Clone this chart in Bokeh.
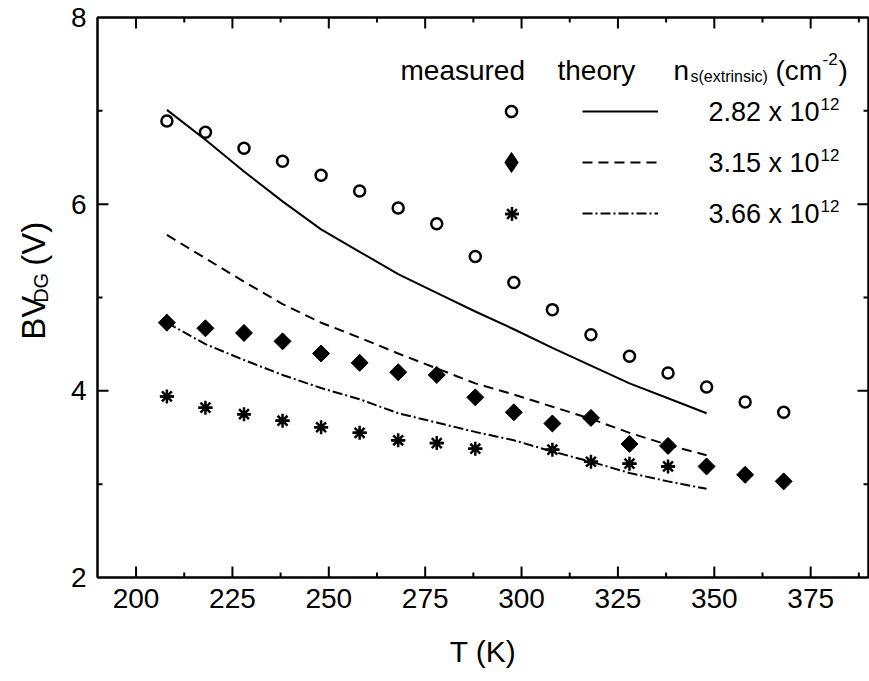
import math
from bokeh.plotting import figure
from bokeh.layouts import row
from bokeh.models import (Label, LinearAxis, SingleIntervalTicker, Legend, LegendItem,
                          CustomJSTickFormatter)
from bokeh.core.properties import value
from bokeh.embed import file_html
from bokeh.resources import INLINE

# ---------------- data ----------------
T_meas = [208, 218, 228, 238, 248, 258, 268, 278, 288, 298, 308, 318, 328, 338, 348, 358, 368]
bv_282_meas = [6.89, 6.77, 6.60, 6.46, 6.31, 6.14, 5.96, 5.79, 5.44, 5.16, 4.87, 4.60, 4.37,
               4.19, 4.04, 3.88, 3.77]
bv_315_meas = [4.73, 4.67, 4.62, 4.53, 4.40, 4.30, 4.20, 4.17, 3.93, 3.77, 3.65, 3.71, 3.43,
               3.41, 3.19, 3.10, 3.03]
T_meas_366 = [208, 218, 228, 238, 248, 258, 268, 278, 288, 308, 318, 328, 338]
bv_366_meas = [3.94, 3.82, 3.75, 3.68, 3.61, 3.55, 3.47, 3.44, 3.38, 3.37, 3.24, 3.22, 3.19]

T_theory = [208, 218, 228, 238, 248, 258, 268, 278, 288, 298, 308, 318, 328, 338, 348]
bv_282_theory = [7.01, 6.69, 6.35, 6.03, 5.73, 5.49, 5.25, 5.05, 4.85, 4.66, 4.46, 4.27, 4.08,
                 3.92, 3.76]
bv_315_theory = [5.67, 5.42, 5.17, 4.93, 4.73, 4.57, 4.40, 4.24, 4.08, 3.96, 3.83, 3.70, 3.55,
                 3.42, 3.31]
bv_366_theory = [4.73, 4.50, 4.33, 4.17, 4.03, 3.91, 3.76, 3.66, 3.56, 3.47, 3.35, 3.24, 3.12,
                 3.03, 2.95]

x_major = [200, 225, 250, 275, 300, 325, 350, 375]
x_minor = [212.5, 237.5, 262.5, 287.5, 312.5, 337.5, 362.5, 387.5]
y_major = [4, 6]
y_minor = [3, 5, 7]
X_MIN, X_MAX, Y_MIN, Y_MAX = 190, 390, 2, 8

header_cols = ["measured", "theory"]
row_labels = ["2.82 x 10", "3.15 x 10", "3.66 x 10"]
row_exp = "12"

FONT = "Liberation Sans"
TW = 60                      # width of the strip holding the y-axis title
FL_ABS, FR_ABS, FT, FB = 97, 868, 17, 577
FL = FL_ABS - TW

p = figure(width=869 - TW, height=681, x_range=(X_MIN, X_MAX), y_range=(Y_MIN, Y_MAX),
           output_backend="svg", toolbar_location=None,
           min_border_left=FL, min_border_right=1, min_border_top=FT, min_border_bottom=681 - FB,
           background_fill_color="white", border_fill_color="white")
p.outline_line_color = "black"
p.outline_line_width = 2
p.xgrid.visible = False
p.ygrid.visible = False

xt = SingleIntervalTicker(interval=25, num_minor_ticks=2)
yt = SingleIntervalTicker(interval=2, num_minor_ticks=2)


def style_axis(ax, labels=True):
    ax.axis_line_width = 2
    ax.axis_line_color = "black"
    ax.major_tick_line_width = 2
    ax.minor_tick_line_width = 2
    ax.major_tick_in = 0
    ax.major_tick_out = 0
    ax.minor_tick_in = 0
    ax.minor_tick_out = 0
    if labels:
        ax.major_label_text_font = FONT
        ax.major_label_text_font_size = "28px"
        ax.major_label_text_color = "black"
        ax.major_label_standoff = 11
    else:
        ax.formatter = CustomJSTickFormatter(code="return ''")
        ax.major_label_text_font_size = "0px"
        ax.major_label_standoff = 0


p.xaxis.ticker = xt
p.yaxis.ticker = yt
style_axis(p.xaxis[0])
style_axis(p.yaxis[0])
p.xaxis.axis_label = "T (K)"
p.xaxis.axis_label_text_font = FONT
p.xaxis.axis_label_text_font_size = "30px"
p.xaxis.axis_label_text_font_style = "normal"
p.xaxis.axis_label_text_color = "black"
p.xaxis.axis_label_standoff = 24

top_ax = LinearAxis(ticker=xt)
right_ax = LinearAxis(ticker=yt)
style_axis(top_ax, labels=False)
style_axis(right_ax, labels=False)
p.add_layout(top_ax, "above")
p.add_layout(right_ax, "right")

# inward ticks on all four sides, drawn as short segments from the tick values
px_x = (FR_ABS - FL_ABS) / (X_MAX - X_MIN)     # pixels per kelvin
px_y = (FB - FT) / (Y_MAX - Y_MIN)             # pixels per volt
MAJ, MIN_ = 11, 5                               # tick lengths in pixels
tk = dict(line_color="black", line_width=2)
for ys, sgn in ((Y_MIN, 1), (Y_MAX, -1)):
    p.segment(x0=x_major, y0=[ys] * len(x_major), x1=x_major,
              y1=[ys + sgn * MAJ / px_y] * len(x_major), **tk)
    p.segment(x0=x_minor, y0=[ys] * len(x_minor), x1=x_minor,
              y1=[ys + sgn * MIN_ / px_y] * len(x_minor), **tk)
for xs, sgn in ((X_MIN, 1), (X_MAX, -1)):
    p.segment(x0=[xs] * len(y_major), y0=y_major, x1=[xs + sgn * MAJ / px_x] * len(y_major),
              y1=y_major, **tk)
    p.segment(x0=[xs] * len(y_minor), y0=y_minor, x1=[xs + sgn * MIN_ / px_x] * len(y_minor),
              y1=y_minor, **tk)

# ---------------- theory lines ----------------
r_l1 = p.line(T_theory, bv_282_theory, line_color="black", line_width=2)
r_l2 = p.line(T_theory, bv_315_theory, line_color="black", line_width=2, line_dash="10 6")
r_l3 = p.line(T_theory, bv_366_theory, line_color="black", line_width=2, line_dash="10 3 2 3")

# ---------------- measured points ----------------
r_c = p.scatter(T_meas, bv_282_meas, marker="circle", size=11, fill_color="white",
                line_color="black", line_width=2.5)
# narrow diamond underneath (hidden by the rotated square) - used for the legend sample
r_d_leg = p.scatter(T_meas, bv_315_meas, marker="diamond", size=16, fill_color="black",
                    line_color="black", line_width=1)
r_d = p.scatter(T_meas, bv_315_meas, marker="square", angle=math.pi / 4, size=12,
                fill_color="black", line_color="black", line_width=1)
r_s1 = p.scatter(T_meas_366, bv_366_meas, marker="asterisk", size=14, line_color="black",
                 line_width=2.5)
r_s2 = p.scatter(T_meas_366, bv_366_meas, marker="dash", size=14, line_color="black",
                 line_width=2.5)

# ---------------- legend ----------------
ROW_Y = [111, 162, 213]      # canvas y of the legend rows
MARK_X = 511
LINE_X0, LINE_W = 582, 76


def marker_legend(renderers, box, cy):
    return Legend(items=[LegendItem(label=" ", renderers=renderers)],
                  location=(MARK_X - box / 2 - FL_ABS, FB - cy - box / 2),
                  glyph_width=box, glyph_height=box, padding=0, margin=0, spacing=0,
                  label_standoff=0, label_width=0, label_height=0, label_text_font_size="1px",
                  background_fill_alpha=0, border_line_alpha=0)


p.add_layout(marker_legend([r_c], 28, ROW_Y[0]), "center")
p.add_layout(marker_legend([r_d_leg], 50, ROW_Y[1]), "center")
p.add_layout(marker_legend([r_s1, r_s2], 35, ROW_Y[2]), "center")

leg_l = Legend(items=[LegendItem(label=" ", renderers=[r_l1]),
                      LegendItem(label=" ", renderers=[r_l2]),
                      LegendItem(label=" ", renderers=[r_l3])],
               location=(LINE_X0 - FL_ABS, FB - ROW_Y[2] - 15),
               orientation="vertical", glyph_width=LINE_W, glyph_height=30, spacing=21,
               padding=0, margin=0, background_fill_alpha=0, border_line_alpha=0,
               label_text_font_size="1px", label_standoff=0, label_height=0, label_width=0)
p.add_layout(leg_l, "center")


def lab(x, y, text, size):
    p.add_layout(Label(x=x - FL_ABS, y=FB - y, x_units="screen", y_units="screen", text=text,
                       text_font=FONT, text_font_size=f"{size}px", text_color="black",
                       text_align="left", text_baseline="alphabetic"))


# header
lab(400, 70, header_cols[0], 28)
lab(557, 70, header_cols[1], 28)
lab(673, 70, "n", 28)
lab(690, 76, "s(extrinsic)", 16)
lab(775, 70, "(cm", 28)
lab(822, 58, "-2", 17)
lab(838, 70, ")", 28)

# rows
for i, t in enumerate(row_labels):
    base = ROW_Y[i] + 0.7
    lab(708, base, t, 27)
    lab(708 + 4.114 * 27 + 1, base - 8, row_exp, 17)

# ---------------- y-axis title strip ----------------
ty = figure(width=TW, height=681, x_range=(0, TW), y_range=(0, 681),
            output_backend="svg", toolbar_location=None, min_border=0,
            x_axis_type=None, y_axis_type=None,
            background_fill_color="white", border_fill_color="white")
ty.outline_line_color = None
txt = dict(angle=math.pi / 2, text_font=value(FONT), text_color="black",
           text_align="left", text_baseline="alphabetic")
ty.text(x=[33], y=[681 - 392], text=["BV"], text_font_size="33px", **txt)
ty.text(x=[40], y=[681 - 347], text=["DG"], text_font_size="20px", **txt)
ty.text(x=[33], y=[681 - 302], text=["(V)"], text_font_size="33px", **txt)

layout = row(ty, p, spacing=0)
open("out.html", "w").write(file_html(layout, INLINE))
